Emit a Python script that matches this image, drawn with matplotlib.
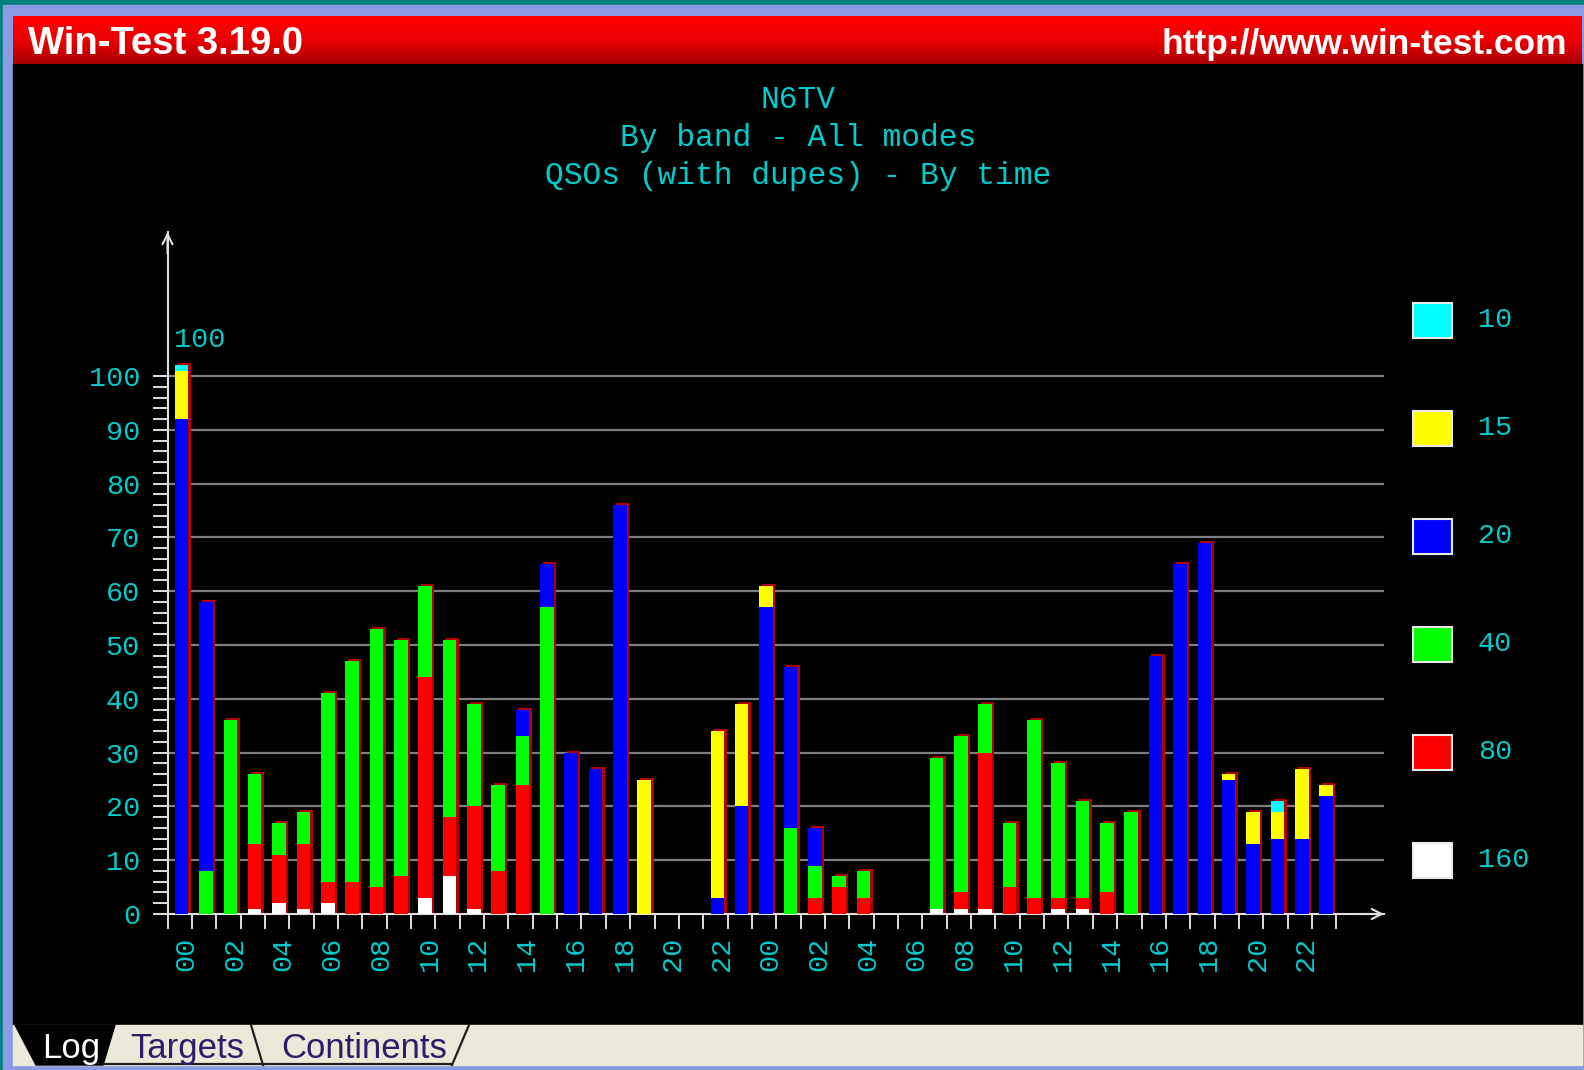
import numpy as np
import matplotlib
matplotlib.use("Agg")
import matplotlib.pyplot as plt
from matplotlib.patches import Rectangle, Polygon
from matplotlib.lines import Line2D
from matplotlib.colors import LinearSegmentedColormap

plt.rcParams['font.family'] = ['Liberation Mono', 'DejaVu Sans Mono']

# QSOs per hour, two contest days (48 hours), by band
hour_labels = ['00', '02', '04', '06', '08', '10', '12', '14', '16', '18', '20', '22',
               '00', '02', '04', '06', '08', '10', '12', '14', '16', '18', '20', '22']

qso_160 = [0, 0, 0, 1, 2, 1, 2, 0, 0, 0, 3, 7, 1, 0, 0, 0, 0, 0, 0, 0, 0, 0, 0, 0,
           0, 0, 0, 0, 0, 0, 0, 1, 1, 1, 0, 0, 1, 1, 0, 0, 0, 0, 0, 0, 0, 0, 0, 0]
qso_80 = [0, 0, 0, 12, 9, 12, 4, 6, 5, 7, 41, 11, 19, 8, 24, 0, 0, 0, 0, 0, 0, 0, 0, 0,
          0, 0, 3, 5, 3, 0, 0, 0, 3, 29, 5, 3, 2, 2, 4, 0, 0, 0, 0, 0, 0, 0, 0, 0]
qso_40 = [0, 8, 36, 13, 6, 6, 35, 41, 48, 44, 17, 33, 19, 16, 9, 57, 0, 0, 0, 0, 0, 0, 0, 0,
          0, 16, 6, 2, 5, 0, 0, 28, 29, 9, 12, 33, 25, 18, 13, 19, 0, 0, 0, 0, 0, 0, 0, 0]
qso_20 = [92, 50, 0, 0, 0, 0, 0, 0, 0, 0, 0, 0, 0, 0, 5, 8, 30, 27, 76, 0, 0, 0, 3, 20,
          57, 30, 7, 0, 0, 0, 0, 0, 0, 0, 0, 0, 0, 0, 0, 0, 48, 65, 69, 25, 13, 14, 14, 22]
qso_15 = [9, 0, 0, 0, 0, 0, 0, 0, 0, 0, 0, 0, 0, 0, 0, 0, 0, 0, 0, 25, 0, 0, 31, 19,
          4, 0, 0, 0, 0, 0, 0, 0, 0, 0, 0, 0, 0, 0, 0, 0, 0, 0, 0, 1, 6, 5, 13, 2]
qso_10 = [1, 0, 0, 0, 0, 0, 0, 0, 0, 0, 0, 0, 0, 0, 0, 0, 0, 0, 0, 0, 0, 0, 0, 0,
          0, 0, 0, 0, 0, 0, 0, 0, 0, 0, 0, 0, 0, 0, 0, 0, 0, 0, 0, 0, 0, 2, 0, 0]

bands = ['10', '15', '20', '40', '80', '160']
band_colors = ['#00ffff', '#ffff00', '#0000ff', '#00ff00', '#ff0000', '#ffffff']

CYAN = '#00cccc'
AXIS = '#e0e0e0'
GRID = '#7f7f7f'

W, H = 1584, 1070


def fx(px):
    return px / W


def fy(py):
    return 1 - py / H


def box(x0, y0, x1, y1):
    return [fx(x0), fy(y1), (x1 - x0) / W, (y1 - y0) / H]


fig = plt.figure(figsize=(15.84, 10.70), dpi=100, facecolor='#008080')
tf = fig.transFigure

# window frame, black panel, tab strip
fig.add_artist(Rectangle((fx(3), fy(1070)), (W - 3) / W, (1070 - 5) / H,
                         transform=tf, color='#8a9be4', zorder=-20))
fig.add_artist(Rectangle((fx(13), fy(1025)), (1582 - 13) / W, (1025 - 64) / H,
                         transform=tf, color='black', zorder=-19))
fig.add_artist(Rectangle((fx(13), fy(1065)), (1582 - 13) / W, (1065 - 1025) / H,
                         transform=tf, color='#ece9d8', zorder=-19))

# tabs
log_tab = [(15, 1025), (36, 1065), (103, 1065), (115, 1025)]
fig.add_artist(Polygon([(fx(x), fy(y)) for x, y in log_tab], closed=True,
                       transform=tf, color='black', zorder=-18))
for xs, ys in [((103, 452), (1064, 1064)), ((251, 263), (1025, 1065)), ((469, 452), (1025, 1065))]:
    fig.add_artist(Line2D([fx(x) for x in xs], [fy(y) for y in ys], transform=tf,
                          color='#202020', lw=1.6, zorder=-17))
fig.text(fx(42), fy(1058), 'Log', color='white', fontsize=25, family='Liberation Sans')
fig.text(fx(130), fy(1058), 'Targets', color='#2b1f6b', fontsize=25, family='Liberation Sans')
fig.text(fx(281), fy(1058), 'Continents', color='#2b1f6b', fontsize=25, family='Liberation Sans')

# red title bar
ax_bar = fig.add_axes(box(13, 16, 1582, 64), zorder=-18)
cmap = LinearSegmentedColormap.from_list('bar', ['#ff0000', '#ec0000', '#a80000'])
ax_bar.imshow(np.linspace(0, 1, 64)[:, None], aspect='auto', cmap=cmap)
ax_bar.axis('off')
fig.text(fx(28), fy(54), 'Win-Test 3.19.0', color='white', fontsize=27.5,
         fontweight='bold', family='Liberation Sans')
fig.text(fx(1567), fy(54), 'http://www.win-test.com', color='white', fontsize=25.5,
         fontweight='bold', family='Liberation Sans', ha='right')

# chart titles
for text, base in [('N6TV', 108), ('By band - All modes', 146), ('QSOs (with dupes) - By time', 184)]:
    fig.text(fx(798), fy(base), text, color=CYAN, fontsize=22.5, ha='center', va='baseline')

# chart
ax = fig.add_axes(box(167.5, 232, 1384, 914))
ax.set_facecolor('none')
x_max = (1384 - 167.5) / 24.35
y_max = (914 - 232) / 5.38
ax.set_xlim(0, x_max)
ax.set_ylim(0, y_max)

for side in ['top', 'right']:
    ax.spines[side].set_visible(False)
for side in ['left', 'bottom']:
    ax.spines[side].set_color(AXIS)
    ax.spines[side].set_linewidth(1.5)

for v in range(10, 101, 10):
    ax.axhline(v, color=GRID, lw=1.6, zorder=0.5)

ax.set_yticks(range(0, 101, 10))
ax.set_yticks(range(0, 101, 2), minor=True)
ax.tick_params(axis='y', which='both', direction='out', length=10.8, width=1.4,
               color=AXIS, labelcolor=CYAN, labelsize=20.5, pad=9)

ax.set_xticks(range(0, 49), [''] * 49)
ax.tick_params(axis='x', which='major', direction='out', length=11, width=1.4, color=AXIS)
label_pos = [i + 0.77 for i in range(0, 48, 2)]
ax.set_xticks(label_pos, hour_labels, minor=True, rotation=90)
ax.tick_params(axis='x', which='minor', length=0, pad=16.5, labelsize=20.5, labelcolor=CYAN)

hours = np.arange(48)
stack = [qso_160, qso_80, qso_40, qso_20, qso_15, qso_10]
stack_colors = band_colors[::-1]
totals = np.sum(np.array(stack), axis=0)
has = totals > 0

# dark red shadow behind each bar
ax.bar(hours[has] + 0.41, totals[has] + 0.37, 0.55, align='edge',
       color='#b00000', linewidth=0, zorder=2)
bottom = np.zeros(48)
for vals, color in zip(stack, stack_colors):
    vals = np.array(vals, dtype=float)
    ax.bar(hours + 0.30, vals, 0.56, bottom=bottom, align='edge',
           color=color, linewidth=0, zorder=3)
    bottom += vals

ax.text(0.25, (914 - 340) / 5.38, '100', color=CYAN, fontsize=20.5, ha='left', va='center')

arrow = dict(arrowstyle='->', color=AXIS, lw=1.5, mutation_scale=18, shrinkA=0, shrinkB=0)
ax.annotate('', xy=(0, y_max), xytext=(0, y_max - 4), arrowprops=arrow, annotation_clip=False)
ax.annotate('', xy=(x_max, 0), xytext=(x_max - 1, 0), arrowprops=arrow, annotation_clip=False)

# legend
for k, (band, color) in enumerate(zip(bands, band_colors)):
    cy = 320 + k * 108
    fig.add_artist(Rectangle((fx(1413), fy(cy + 17.5)), 39 / W, 35 / H, transform=tf,
                             facecolor=color, edgecolor='#e8e8e8', lw=1.5, zorder=2))
    fig.text(fx(1478), fy(cy), band, color=CYAN, fontsize=20.5, va='center')

fig.savefig('out.png', dpi=100, facecolor=fig.get_facecolor())
